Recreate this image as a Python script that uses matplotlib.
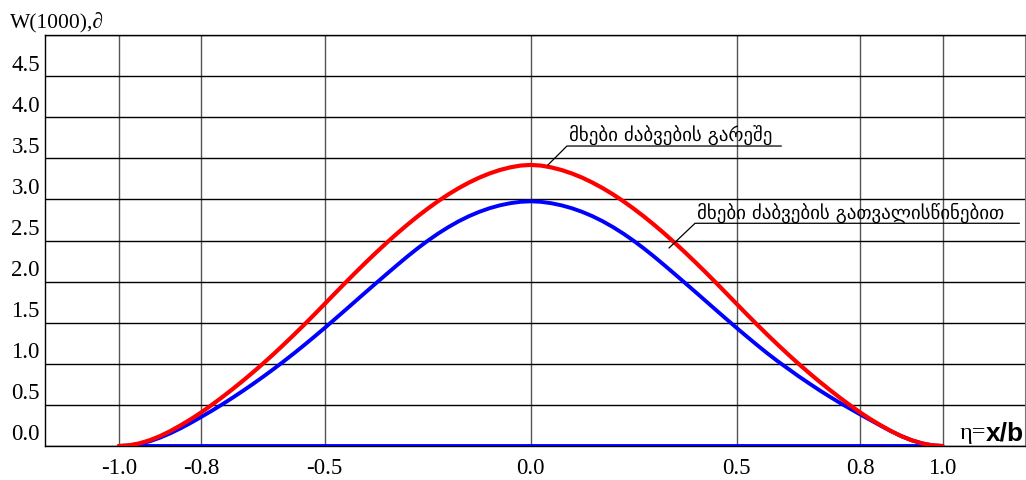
import matplotlib
matplotlib.use("Agg")
import matplotlib.pyplot as plt
from matplotlib.transforms import ScaledTranslation

# eta = x/b, step 0.025
eta = [-1.000, -0.975, -0.950, -0.925, -0.900, -0.875, -0.850, -0.825, -0.800, -0.775,
       -0.750, -0.725, -0.700, -0.675, -0.650, -0.625, -0.600, -0.575, -0.550, -0.525,
       -0.500, -0.475, -0.450, -0.425, -0.400, -0.375, -0.350, -0.325, -0.300, -0.275,
       -0.250, -0.225, -0.200, -0.175, -0.150, -0.125, -0.100, -0.075, -0.050, -0.025,
       0.000,
       0.025, 0.050, 0.075, 0.100, 0.125, 0.150, 0.175, 0.200, 0.225, 0.250,
       0.275, 0.300, 0.325, 0.350, 0.375, 0.400, 0.425, 0.450, 0.475, 0.500,
       0.525, 0.550, 0.575, 0.600, 0.625, 0.650, 0.675, 0.700, 0.725, 0.750,
       0.775, 0.800, 0.825, 0.850, 0.875, 0.900, 0.925, 0.950, 0.975, 1.000]

# W(1000) without tangent stresses (red)
w_without = [0.000, 0.008, 0.032, 0.070, 0.120, 0.181, 0.251, 0.326, 0.408, 0.497,
             0.590, 0.687, 0.788, 0.893, 1.002, 1.115, 1.232, 1.352, 1.475, 1.601,
             1.729, 1.858, 1.986, 2.112, 2.235, 2.355, 2.471, 2.583, 2.690, 2.792,
             2.888, 2.978, 3.061, 3.137, 3.205, 3.265, 3.316, 3.358, 3.390, 3.412,
             3.420,
             3.412, 3.390, 3.358, 3.316, 3.265, 3.205, 3.137, 3.061, 2.978, 2.888,
             2.792, 2.690, 2.583, 2.471, 2.355, 2.235, 2.112, 1.986, 1.858, 1.729,
             1.601, 1.475, 1.352, 1.232, 1.115, 1.002, 0.893, 0.788, 0.687, 0.590,
             0.497, 0.408, 0.326, 0.251, 0.181, 0.120, 0.070, 0.032, 0.008, 0.000]

# W(1000) with tangent stresses (blue)
w_with = [0.000, 0.006, 0.025, 0.057, 0.101, 0.154, 0.215, 0.282, 0.353, 0.426,
          0.503, 0.583, 0.666, 0.752, 0.841, 0.933, 1.028, 1.126, 1.227, 1.331,
          1.437, 1.545, 1.654, 1.764, 1.874, 1.983, 2.091, 2.198, 2.303, 2.403,
          2.497, 2.584, 2.663, 2.734, 2.796, 2.849, 2.893, 2.928, 2.954, 2.971,
          2.977,
          2.971, 2.954, 2.928, 2.893, 2.849, 2.796, 2.734, 2.663, 2.584, 2.497,
          2.403, 2.303, 2.198, 2.091, 1.983, 1.874, 1.764, 1.654, 1.545, 1.437,
          1.331, 1.227, 1.126, 1.030, 0.940, 0.850, 0.765, 0.682, 0.603, 0.527,
          0.455, 0.384, 0.315, 0.246, 0.180, 0.119, 0.070, 0.032, 0.008, 0.000]

base_x = [-1.0, 1.0]
base_y = [0.0, 0.0]

xticks = [-1.0, -0.8, -0.5, 0.0, 0.5, 0.8, 1.0]
xlabels = ["-1.0", "-0.8", "-0.5", "0.0", "0.5", "0.8", "1.0"]
ygrid = [0.0, 0.5, 1.0, 1.5, 2.0, 2.5, 3.0, 3.5, 4.0, 4.5, 5.0]
ylabels = ["0.0", "0.5", "1.0", "1.5", "2.0", "2.5", "3.0", "3.5", "4.0", "4.5", ""]

label_red = "მხები ძაბვების გარეშე"
label_blue = "მხები ძაბვების გათვალისწინებით"

serif = "Liberation Serif"

fig = plt.figure(figsize=(10.26, 4.81), dpi=100)
ax = fig.add_axes([0.0443, 0.0707, 0.9547, 0.8543])
ax.set_xlim(-1.178, 1.2)
ax.set_ylim(0, 5.0)

ax.set_xticks(xticks, xlabels, fontfamily=serif, fontsize=16.5)
ax.set_yticks(ygrid, ylabels, fontfamily=serif, fontsize=16.5)
ax.tick_params(length=0, pad=4)
ax.tick_params(axis="x", pad=8)
off = ScaledTranslation(0, 14.5 / 100, fig.dpi_scale_trans)
for lab in ax.get_yticklabels():
    lab.set_transform(lab.get_transform() + off)

ax.grid(True, axis="y", color="black", lw=1.0)
ax.grid(True, axis="x", color="#555555", lw=1.0)
ax.set_axisbelow(True)
for s in ["left", "bottom", "top"]:
    ax.spines[s].set_color("black")
    ax.spines[s].set_linewidth(1.0)
ax.spines["right"].set_color("#777777")

ax.plot(base_x, base_y, color="#0000ff", lw=3.5, solid_capstyle="butt", zorder=3)
ax.plot(eta, w_with, color="#0000ff", lw=2.8, zorder=3,
        solid_joinstyle="round", solid_capstyle="round")
ax.plot(eta, w_without, color="#ff0000", lw=3.0, zorder=4,
        solid_joinstyle="round", solid_capstyle="round")

# annotations with leader lines
ax.plot([0.042, 0.088, 0.608], [3.42, 3.65, 3.65], color="black", lw=0.9, zorder=5)
ax.text(0.092, 3.67, label_red, fontfamily="DejaVu Sans", fontsize=13.6,
        va="bottom", ha="left")
ax.plot([0.336, 0.399, 1.186], [2.41, 2.71, 2.71], color="black", lw=0.9, zorder=5)
ax.text(0.403, 2.73, label_blue, fontfamily="DejaVu Sans", fontsize=13.6,
        va="bottom", ha="left")

ax.text(-1.265, 5.17, "W(1000),∂", fontfamily=serif, fontsize=15.5, ha="left", va="center",
        clip_on=False)
ax.text(1.106, 0.17, "η=", fontfamily=serif, fontsize=17.5, ha="right", va="center")
ax.text(1.198, 0.17, "x/b", fontfamily="Liberation Sans", fontweight="bold", fontsize=19,
        ha="right", va="center")

fig.savefig("out.png", dpi=100)
